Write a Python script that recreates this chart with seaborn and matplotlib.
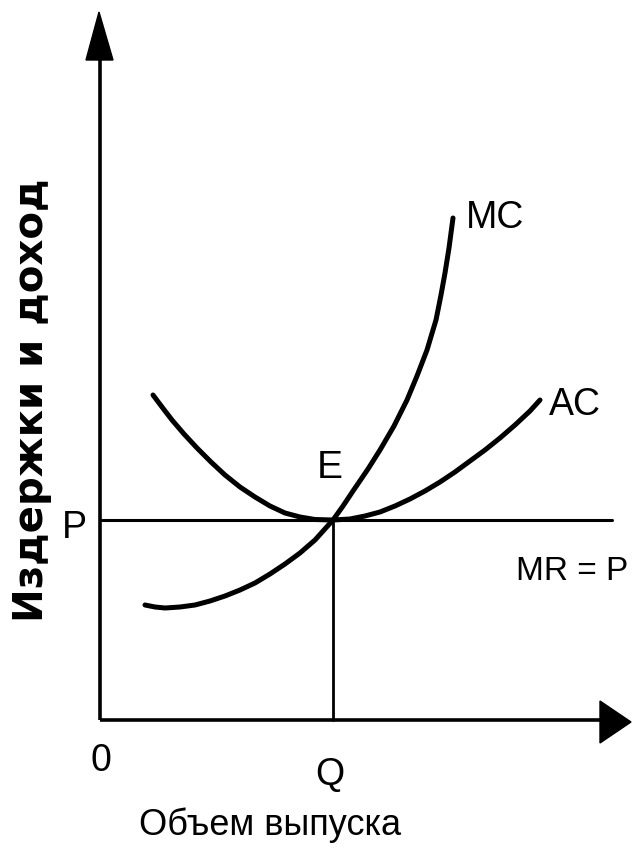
import matplotlib
matplotlib.use("Agg")
import matplotlib.pyplot as plt
from matplotlib import font_manager
from matplotlib.patches import Polygon
import seaborn as sns
import pandas as pd

sns.set_theme(style="white")

names = {f.name for f in font_manager.fontManager.ttflist}
NARROW = "Liberation Sans Narrow" if "Liberation Sans Narrow" in names else "Liberation Sans"
plt.rcParams["font.family"] = [NARROW, "DejaVu Sans"]
plt.rcParams["text.color"] = "black"

# ---- data (units = output quantity / cost) ----
ac_q = [53, 62, 72, 84, 97, 111, 125, 140, 155, 170, 185, 200, 215, 233,
        250, 265, 280, 295, 310, 325, 340, 355, 370, 385, 400, 415, 430, 440]
ac_c = [325, 313, 300, 286, 272, 258, 245, 233, 223, 214, 207, 203, 200.5, 200,
        201, 204, 208, 214, 221, 229, 238, 248, 259, 270, 282, 295, 309, 320]

mc_q = [45, 55, 65, 80, 95, 110, 125, 140, 155, 170, 185, 200, 215, 224, 233, 243,
        253, 268, 280, 294, 307, 317, 327, 336, 341, 345, 349, 353]
mc_c = [115, 113, 112, 113, 115, 119, 124, 130, 137, 146, 156, 167, 180, 190, 200, 214,
        229, 251, 270, 294, 320, 344, 370, 400, 425, 447, 472, 502]

price_p = 200          # MR = P level
quantity_q = 233       # equilibrium output
mr_end = 512           # right end of MR = P line
x_axis_end = 531
y_axis_end = 708

ac_df = pd.DataFrame({"q": ac_q, "c": ac_c})
mc_df = pd.DataFrame({"q": mc_q, "c": mc_c})

fig = plt.figure(figsize=(6.36, 8.58), dpi=100)
ax = fig.add_axes([0, 0, 1, 1])

# axes with arrowheads
ax.plot([0, 0], [0, y_axis_end - 48], color="black", lw=2.6, solid_capstyle="butt")
ax.plot([0, x_axis_end - 31], [0, 0], color="black", lw=2.6, solid_capstyle="butt")
ax.add_patch(Polygon([[-1, y_axis_end], [-14, y_axis_end - 48], [13, y_axis_end - 48]],
                     closed=True, color="black"))
ax.add_patch(Polygon([[x_axis_end, -2], [x_axis_end - 31, 19], [x_axis_end - 31, -23]],
                     closed=True, color="black"))

# MR = P line and Q line
ax.plot([0, mr_end], [price_p, price_p], color="black", lw=2.2)
ax.plot([quantity_q, quantity_q], [0, price_p], color="black", lw=2.0)

# curves
sns.lineplot(data=ac_df, x="q", y="c", sort=False, color="black", lw=3.6, ax=ax,
             solid_joinstyle="round", solid_capstyle="round")
sns.lineplot(data=mc_df, x="q", y="c", sort=False, color="black", lw=3.6, ax=ax,
             solid_joinstyle="round", solid_capstyle="round")
ax.set_xlim(-100, 536)
ax.set_ylim(-138, 720)
ax.axis("off")

fs = 27
ax.text(366, 502, "MC", fontsize=fs, ha="left", va="center")
ax.text(449, 315, "AC", fontsize=fs, ha="left", va="center")
ax.text(230, 252, "E", fontsize=28, ha="center", va="center")
ax.text(-26, 192, "P", fontsize=27, ha="center", va="center")
ax.text(416, 148, "MR = P", fontsize=24, ha="left", va="center")
ax.text(1, -41, "0", fontsize=27, ha="center", va="center")
ax.text(230, -55, "Q", fontsize=27, ha="center", va="center")
ax.text(170, -105, "Объем выпуска", fontsize=26, ha="center", va="center")
ax.text(-68, 320, "Издержки и доход", fontsize=29, ha="center", va="center",
        rotation=90, fontweight="bold", family=["DejaVu Sans"])

fig.savefig("out.png", dpi=100, facecolor="white")
